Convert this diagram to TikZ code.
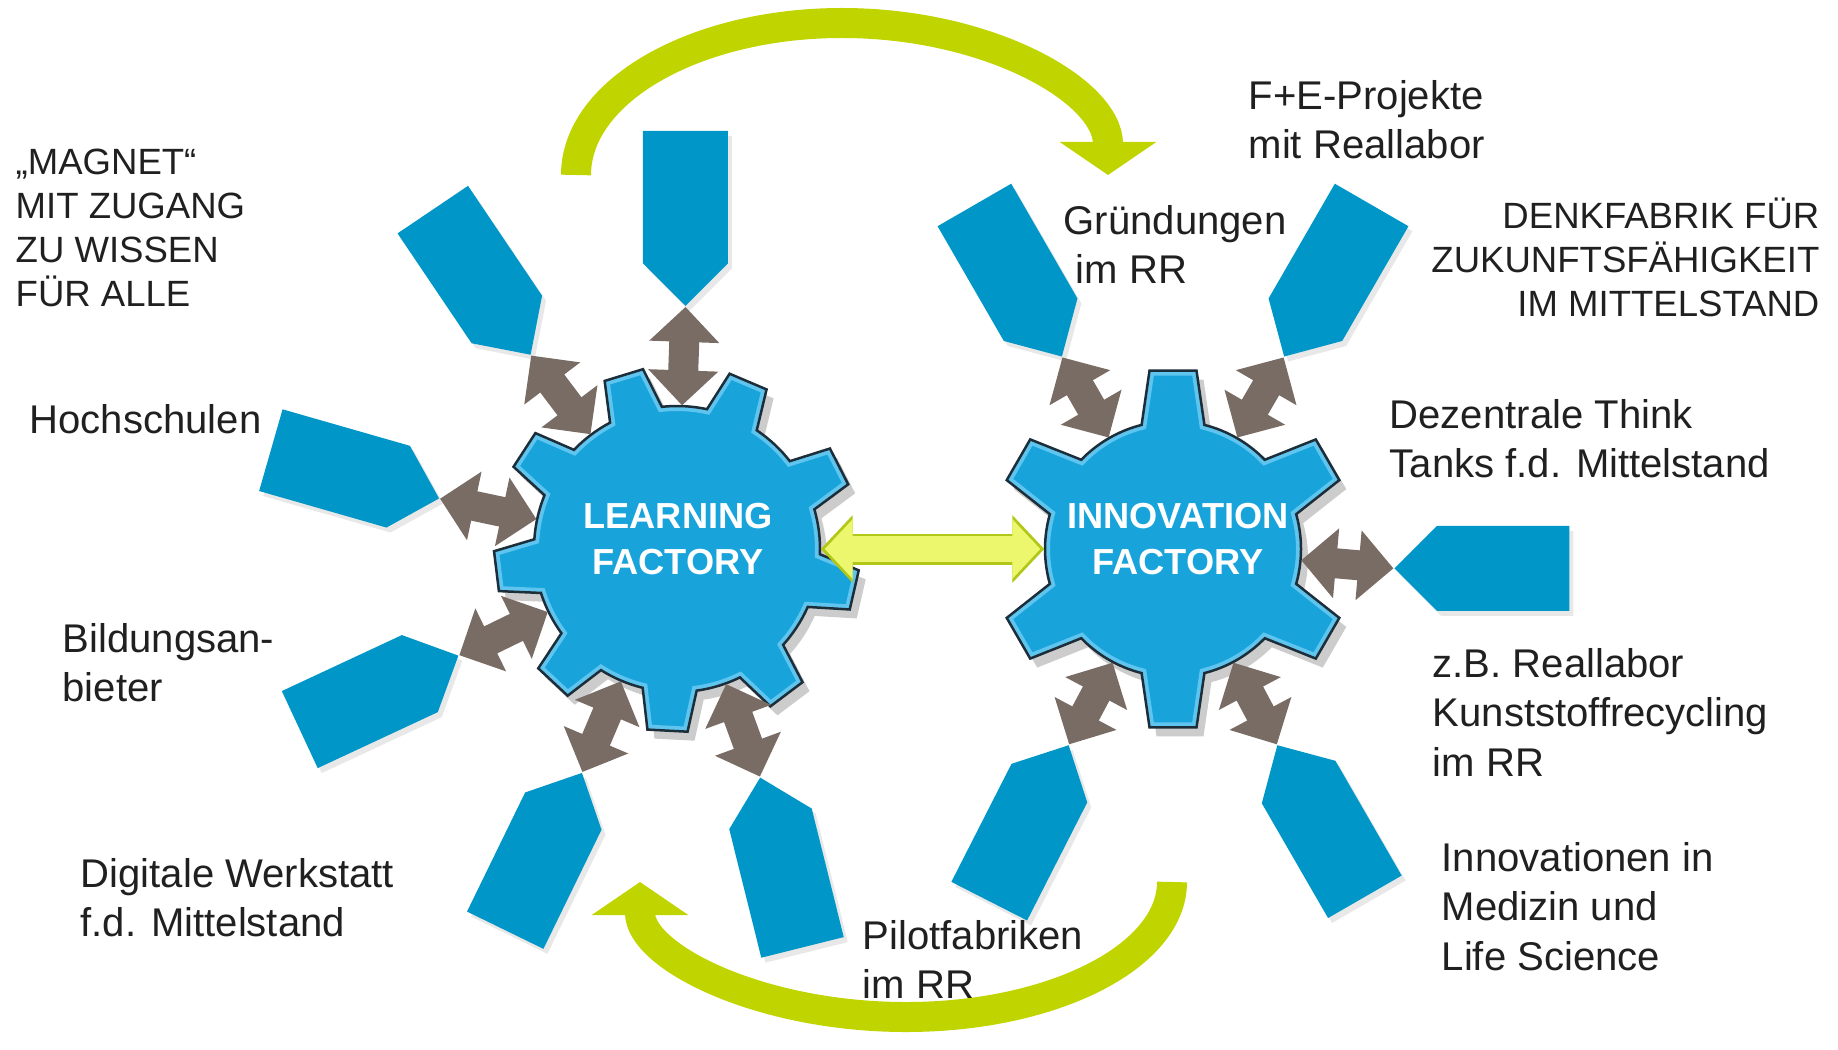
\documentclass[tikz,border=0pt]{standalone}
\usepackage{fontspec}
\setmainfont{Liberation Sans}
\usetikzlibrary{shapes.symbols,arrows.meta,shadows,calc}

\definecolor{gearblue}{RGB}{24,164,219}
\definecolor{gearrim}{RGB}{95,196,238}
\definecolor{gearline}{RGB}{28,46,58}
\definecolor{spokeblue}{RGB}{0,150,199}
\definecolor{brn}{RGB}{121,108,101}
\definecolor{lime}{RGB}{192,212,0}
\definecolor{paleylw}{RGB}{236,247,110}
\definecolor{ylwedge}{RGB}{178,200,25}
\definecolor{txt}{RGB}{32,32,32}

\newcommand{\gearpath}{(\firsttooth-\hbase:\R)
	\foreach \ang in \teeth {
		-- (\ang-\hbase:\R) -- (\ang-\htip:\Rt) -- (\ang+\htip:\Rt) -- (\ang+\hbase:\R)
		arc[start angle=\ang+\hbase, end angle=\ang+\pitch-\hbase, radius=\R]
	} -- cycle}
\newcommand{\drawgear}{
	\fill[black, opacity=.2, xshift=.7mm, yshift=-.9mm] \gearpath;
	\fill[gearblue] \gearpath;
	\begin{scope}
		\clip \gearpath;
		\draw[gearrim, line width=1mm] \gearpath;
	\end{scope}
	\draw[gearline, line width=.25mm] \gearpath;
}

\begin{document}
\begin{tikzpicture}[x=0.1mm, y=0.1mm]
	\tikzstyle{gl} = [circle, inner sep=0]
	\tikzstyle{gt} = [text=white, font=\bfseries\fontsize{10.3}{13}\selectfont, align=center, inner sep=0]
	\tikzstyle{sp} = [signal, signal to=east, fill=spokeblue, minimum width=17.5mm, minimum height=8.5mm, inner sep=0, drop shadow={opacity=.18, shadow xshift=.4mm, shadow yshift=-.5mm}]
	\tikzstyle{ba} = [brn, line width=3mm, >={Triangle[width=6.8mm,length=3.5mm]}, <->]
	\tikzstyle{yb} = [ylwedge, line width=3.1mm, >={Triangle[width=6.6mm,length=3.2mm]}, <->]
	\tikzstyle{ya} = [paleylw, line width=2.6mm, >={Triangle[width=5.8mm,length=2.8mm]}, <->, shorten <=.4mm, shorten >=.4mm]
	\tikzstyle{ga} = [lime, line width=3mm, -{Triangle[width=9.5mm,length=3.3mm]}]
	\tikzstyle{lb} = [inner sep=0, align=left, text=txt, font=\fontsize{11.4}{14}\selectfont]
	\tikzstyle{cp} = [inner sep=0, text=txt, font=\fontsize{10.4}{12.5}\selectfont]

	\useasboundingbox (0,0) rectangle (1838,1049);

	\coordinate (ta) at (576,874);
	\coordinate (tb) at (1172,167);
	\draw[ga] (ta) arc[start angle=180, end angle=0, x radius=266, y radius=152];
	\draw[ga] (tb) arc[start angle=0, end angle=-180, x radius=266, y radius=135];

	\begin{scope}[shift={(677,500)}]
		\def\R{143}\def\Rt{183}\def\hbase{10.9}\def\htip{6.3}\def\pitch{40}
		\def\firsttooth{27}\def\teeth{27,67,...,347}
		\drawgear
	\end{scope}
	\begin{scope}[shift={(1173,500)}]
		\def\R{128}\def\Rt{180}\def\hbase{14.2}\def\htip{7.5}\def\pitch{60}
		\def\firsttooth{30}\def\teeth{30,90,...,330}
		\drawgear
	\end{scope}

	\node[gl, minimum size=28.6mm] (lf) at (677,500) {};
	\node[gl, minimum size=25.6mm] (rf) at (1173,500) {};
	\node[gt] (lft) at ($(lf)+(1,10)$) {LEARNING\\FACTORY};
	\node[gt] (rft) at ($(rf)+(5,10)$) {INNOVATION\\FACTORY};

	\foreach \a/\r/\n in {88/-90/1,127/-56/2,168/-16/3,206/25/4,247/64/5,290/104/6} {
		\node[sp, rotate=\r] (s\n) at ($(lf.center)+(\a:243)+(\r:-109)$) {};
		\draw[ba] (s\n.east) -- (lf.\a);
	}
	\foreach \a/\r/\n in {120/-60/7,60/-120/8,-5/180/9,-62/120/10,-118/63/11} {
		\node[sp, rotate=\r] (s\n) at ($(rf.center)+(\a:222)+(\r:-109)$) {};
		\draw[ba] (s\n.east) -- (rf.\a);
	}

	\draw[yb] (lf.east) -- (rf.west);
	\draw[ya] (lf.east) -- (rf.west);

	\node[cp, anchor=north west, align=left] (magnet) at (15,901) {„MAGNET“\\MIT ZUGANG\\ZU WISSEN\\FÜR ALLE};
	\node[lb, anchor=north west] (hs) at (29,645) {Hochschulen};
	\node[lb, anchor=north west] (bild) at (62,426) {Bildungsan-\\bieter};
	\node[lb, anchor=north west] (dig) at (80,191) {Digitale Werkstatt\\f.d. Mittelstand};
	\node[lb, anchor=north west] (pilot) at (862,129) {Pilotfabriken\\im RR};
	\node[lb, anchor=north west] (grund) at (1063,844) {Gründungen\\\hspace{1.2mm}im RR};
	\node[lb, anchor=north west] (fe) at (1248,969) {F+E-Projekte\\mit Reallabor};
	\node[cp, anchor=north east, align=right] (denk) at (1820,852) {DENKFABRIK FÜR\\ZUKUNFTSFÄHIGKEIT\\IM MITTELSTAND};
	\node[lb, anchor=north west] (dez) at (1389,650) {Dezentrale Think\\Tanks f.d. Mittelstand};
	\node[lb, anchor=north west] (zb) at (1432,401) {z.B. Reallabor\\Kunststoffrecycling\\im RR};
	\node[lb, anchor=north west] (inno) at (1441,207) {Innovationen in\\Medizin und\\Life Science};
\end{tikzpicture}
\end{document}
